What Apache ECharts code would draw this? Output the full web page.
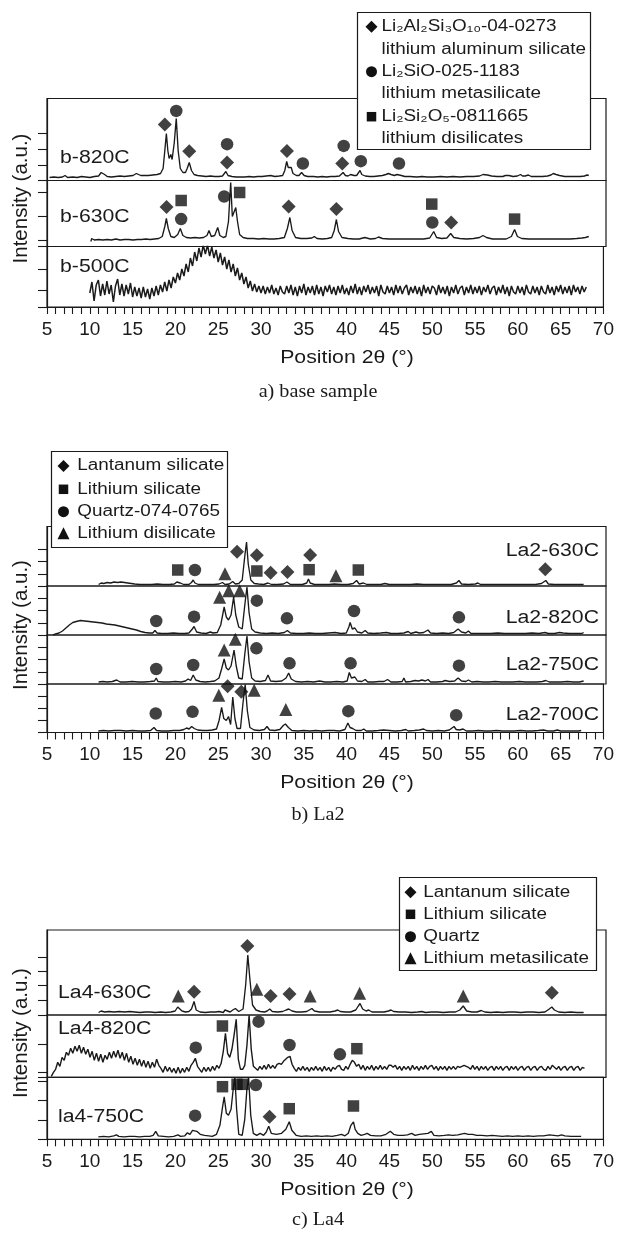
<!DOCTYPE html>
<html>
<head>
<meta charset="UTF-8">
<title>XRD patterns</title>
<script src="https://cdn.jsdelivr.net/npm/echarts@6/dist/echarts.min.js"></script>
<style>
  body { margin: 0; background: #fff; }
  #main { width: 617px; height: 1239px; }
</style>
</head>
<body>
<div id="main"></div>
<script>
// ---------- data (2θ in degrees, intensity in a.u. above each trace's floor) ----------
var xTickMin = 5, xTickMax = 70, xTickStep = 5;

// a) base sample
var b820 = [[5.3,3],[5.8,3.5],[6.3,3],[6.8,3.5],[7.1,5],[7.4,3],[8,3.5],[8.5,3],[9,4],[9.5,3.5],[10,3],[10.5,4],[11,4.5],[11.3,8],[11.5,9.5],[11.7,6],[12,4],[12.5,3.5],[13,4],[13.5,4.5],[14,4],[14.5,4.5],[15,5],[15.4,7],[15.6,8],[15.9,5],[16.3,5],[16.8,5],[17.3,5.5],[17.8,6],[18.2,7],[18.5,12],[18.7,30],[18.88,47],[19.05,30],[19.2,22],[19.4,26],[19.55,21],[19.8,38],[20.03,62],[20.25,30],[20.5,12],[20.8,8],[21.1,8],[21.3,12],[21.54,18],[21.8,10],[22.1,6],[22.5,5],[23,4.5],[23.5,4],[24,4.5],[24.5,4],[25,4],[25.4,4.5],[25.6,6],[25.8,9],[26.05,5],[26.5,4],[27,3.5],[27.5,3.5],[28,3.5],[28.5,4],[29,3.5],[29.5,4],[30,4],[30.5,4.5],[31,5],[31.5,4],[32,4.5],[32.4,5],[32.65,10],[32.87,19],[33.05,13],[33.2,12],[33.4,13],[33.6,7],[34,5],[34.3,5],[34.6,8],[34.9,5],[35.3,4],[36,4],[36.5,3.5],[37,4],[37.5,3.5],[38,4],[38.5,4],[39,4.5],[39.2,5],[39.43,8],[39.7,5],[40,4.5],[40.3,6],[40.5,7],[40.7,5],[41,5],[41.2,7],[41.4,10],[41.6,6],[42,4.5],[42.5,4],[43,4],[43.5,4.5],[44,5],[44.4,6],[44.7,7],[45,6],[45.4,5],[45.7,6],[45.93,8],[46.2,5],[46.6,4],[47.2,4],[48,3.5],[48.6,4],[49.2,3.5],[50,3.5],[50.8,4],[51.5,3.5],[52.2,4],[53,3.5],[53.8,4],[54.6,4],[55.3,4.5],[55.7,6],[55.93,7],[56.2,5.5],[56.7,4.5],[57.3,4],[58,4],[58.3,5],[58.45,6],[58.7,5],[59.2,4],[59.7,4.5],[60.06,6],[60.3,4.5],[60.6,4.5],[60.97,5.5],[61.3,4],[62,4],[62.6,4],[63.2,4.5],[63.6,5.5],[63.86,7],[64.2,6],[64.6,5],[65.2,4],[65.8,4],[66.4,4],[67,4],[67.5,4.5],[67.8,5.5],[68,5]];
var b820Diamond = [[18.7,56],[21.54,29.3],[25.94,18],[32.9,29.6],[39.33,17]];
var b820Circle = [[20.03,69.6],[25.94,36.3],[34.75,17],[39.5,34.6],[41.49,19.3],[45.93,17]];
var b820Ticks = [0,15.5,31.5,47.2];

var b630 = [[10.1,5],[10.2,8],[10.5,6.5],[11,7],[11.5,6.5],[12,7],[12.5,6.5],[13,7.5],[13.5,6.5],[14,7],[14.5,7],[15,6.5],[15.5,7],[16,7],[16.5,7.5],[17,7],[17.5,7.5],[18,8],[18.4,10],[18.7,20],[18.88,28],[19.1,18],[19.4,10],[19.8,9],[20.2,12],[20.5,18],[20.8,11],[21.2,9],[21.7,8.5],[22.2,9],[22.7,8.5],[23.2,9],[23.6,11],[23.84,16],[24.1,10],[24.5,11],[24.85,19],[25.1,11],[25.5,9],[25.8,10],[26.1,25],[26.36,64],[26.55,30],[26.75,28],[26.95,39],[27.15,25],[27.4,12],[27.8,9],[28.3,8],[29,8],[29.6,7.5],[30.2,8],[30.8,7.5],[31.4,7.5],[32,8],[32.6,9],[32.95,18],[33.24,29],[33.5,16],[33.9,9],[34.5,8],[35.2,8],[35.8,8.5],[36.08,10],[36.4,8],[37,7.5],[37.6,8],[38.1,9],[38.4,16],[38.65,27],[38.9,15],[39.3,9],[40,8],[40.6,7.5],[41.3,7.5],[41.95,9],[42.6,7.5],[43.2,8],[43.55,9.5],[44,8],[44.8,7.5],[45.6,7.5],[46.4,7.5],[47.2,7.5],[48,7.5],[48.8,7.5],[49.5,8.5],[49.97,15],[50.3,9],[50.9,8],[51.5,8.5],[51.94,13],[52.3,9],[53,8],[53.8,7.5],[54.6,8],[55.3,9],[55.7,11],[56.1,9],[56.8,7.5],[57.6,7.5],[58.4,7.5],[59,10],[59.37,17],[59.7,10],[60.2,8],[61,7.5],[61.8,7.5],[62.6,7.5],[63.4,7.5],[64.2,7.5],[65,7.5],[65.8,7.5],[66.6,8],[67.2,8.5],[67.6,9],[67.8,10.5],[68,10]];
var b630Diamond = [[18.9,39.4],[33.1,40],[38.65,37.4],[52.0,24]];
var b630Square = [[20.6,46],[27.4,54],[49.74,42.4],[59.37,27.4]];
var b630Circle = [[20.6,27.4],[25.6,50],[49.8,24]];
var b630Ticks = [0,5.8,29.8,53.8];

// b-500C: one reading every 0.25° from 10°
var b500Start = 10, b500Step = 0.25;
var b500 = [
  14,25,6,22,27,11,23,12,26,13,22,5,21,28,12,23,11,22,13,24,   // 10.00 - 14.75
  10,20,11,19,9,20,10,18,8,19,11,21,12,22,15,25,16,27,19,30,   // 15.00 - 19.75
  24,34,27,38,31,43,35,49,41,55,46,59,50,62,53,62,51,60,49,57, // 20.00 - 24.75
  45,54,42,50,38,47,35,43,31,39,27,34,23,30,19,26,16,23,15,21, // 25.00 - 29.75
  14,                                                          // 30.00
  21,13,20,14,22,13,19,12,21,15, 13,21,14,22,12,20,11,21,14,23,
  12,20,14,21,12,22,13,20,11,21, 15,22,13,20,12,21,14,22,13,19,
  12,21,14,23,13,20,12,21,15,22, 13,20,14,21,11,22,15,13,21,14,
  20,12,22,14,21,13,19,22,12,20, 14,21,13,20,11,22,14,20,13,21,
  19,12,22,14,20,13,21,11,20,14, 22,13,19,21,12,20,14,22,13,20,
  14,21,12,20,15,22,13,19,21,12, 20,14,22,13,20,11,21,15,13,21,
  14,20,12,22,15,13,21,14,20,12, 21,15,13,22,14,20,12,21,15,22,
  13,20,14,21,12,22,15,20,13,21, 15,20
];
var b500Ticks = [0,16.3,38];

// b) La2
var la2630 = [[11,1.5],[11.3,3],[11.6,2.5],[12,3.5],[12.4,3],[12.8,4],[13.2,3.5],[13.6,4],[14,3.5],[14.4,3],[14.8,2.5],[15.2,2],[15.8,1.5],[16.5,1.5],[17.2,1.5],[17.8,2],[18.5,1.5],[19.2,1.5],[19.8,2],[20.1,4],[20.3,6],[20.5,3],[20.9,1.5],[21.5,1.5],[21.8,3.5],[22.0,6],[22.2,3],[22.6,1.5],[23.2,1.5],[23.8,1.5],[24.4,1.5],[25,2],[25.4,3.5],[25.7,1.5],[26.2,2],[26.6,4.5],[26.9,2],[27.3,2.5],[27.7,6],[28.0,30],[28.2,44],[28.4,22],[28.7,6],[29.1,2.5],[29.6,2],[30.2,1.5],[30.7,3],[31.1,1.5],[31.8,1.5],[32.5,2],[32.9,4],[33.3,1.5],[34,1.5],[34.7,1.5],[35.2,3],[35.4,7],[35.6,3],[36.1,1.5],[37,1.5],[37.8,1.5],[38.4,2],[39.2,1.5],[40,1.5],[40.6,2.5],[41,5.5],[41.3,2],[41.8,3],[42.2,1.5],[43,1.5],[43.8,1.5],[44.3,2.5],[44.8,1.5],[45.6,1.5],[46.5,1.5],[47.3,1.5],[48,2],[48.8,1.5],[49.6,1.5],[50.4,1.5],[51.2,1.5],[52,1.5],[52.6,3],[52.9,5.5],[53.2,2],[54,1.5],[54.8,2],[55.1,3],[55.4,1.5],[56.2,1.5],[57,1.5],[57.8,1.5],[58.6,1.5],[59.4,1.5],[60.2,1.5],[61,1.5],[61.8,1.5],[62.5,2.5],[63,5.5],[63.3,2],[64,1.5],[64.8,1.5],[65.6,1.5],[66.4,1.5],[67.4,1.5]];
var la2630Diamond = [[27.1,34.3],[29.4,30.7],[31.0,13.3],[32.96,14],[35.6,31],[62.94,16.7]];
var la2630Square = [[20.2,16],[29.4,15],[35.48,16.3],[41.2,16]];
var la2630Circle = [[22.2,16]];
var la2630Triangle = [[25.7,12.3],[38.6,10.3]];

var la2820 = [[5.7,0],[6.0,1],[6.4,2],[6.8,4],[7.2,7],[7.6,10],[8,12.5],[8.4,13.5],[8.9,14.5],[9.4,14],[9.9,13.5],[10.4,13],[10.9,12.5],[11.4,12],[11.9,11],[12.4,10.5],[12.9,10],[13.4,9],[13.9,8],[14.4,7],[14.9,6],[15.4,5],[15.9,3.5],[16.4,2.5],[16.9,2],[17.3,2],[17.55,4.5],[17.8,2],[18.3,1.5],[19,1.5],[19.7,2],[20.4,1.5],[21,1.5],[21.5,2],[21.9,6],[22.1,8.5],[22.4,3],[22.9,2],[23.5,1.5],[24,3],[24.3,2],[24.8,2.5],[25.2,10],[25.6,28],[25.85,18],[26.1,15],[26.4,20],[26.7,38],[26.95,20],[27.3,8],[27.7,6],[28.0,30],[28.25,48],[28.5,22],[28.8,6],[29.2,3],[29.8,2],[30.5,1.5],[31.2,2],[31.9,1.5],[32.6,2.5],[32.95,4.5],[33.3,2],[34,1.5],[34.8,1.5],[35.5,2],[36.2,1.5],[37,1.5],[37.7,2],[38.5,2.5],[39.2,1.5],[39.8,2],[40.1,8],[40.25,12.5],[40.5,6],[40.8,7],[41.1,3],[41.6,2],[42.0,4.5],[42.3,2],[43,1.5],[43.8,2],[44.5,2.5],[45,1.5],[45.8,1.5],[46.5,2],[47,3.5],[47.3,1.5],[47.9,3],[48.3,2],[48.8,2.5],[49.3,5],[49.6,2],[50.3,1.5],[51,2],[51.7,1.5],[52.3,2.5],[52.8,6],[53.2,3],[53.7,2],[54.0,4],[54.3,1.5],[55,1.5],[55.8,1.5],[56.6,1.5],[57.4,2],[58.2,1.5],[59,1.5],[59.8,1.5],[60.6,1.5],[61.4,2],[62.2,1.5],[62.9,2.5],[63.3,1.5],[64,1.5],[64.6,2.5],[65,2],[65.7,1.5],[66.5,1.5],[67.2,1.5],[67.4,2.5]];
var la2820Triangle = [[25.07,37.7],[26.13,44.3],[27.4,44.3]];
var la2820Circle = [[29.4,34.3],[17.7,14],[22.1,18.3],[32.9,16.7],[40.7,24],[52.9,17.7]];

var la2750 = [[11,2],[11.5,2.5],[12,2],[12.6,2.5],[13.1,4],[13.5,2],[14.2,2],[14.9,2.5],[15.6,2],[16.3,2],[17,2.5],[17.5,3],[17.7,6],[17.9,2.5],[18.5,2],[19.2,2],[19.9,2.5],[20.6,2],[21.1,3],[21.4,5],[21.7,3.5],[22.0,9],[22.3,4],[22.8,2.5],[23.4,2],[24,2.5],[24.5,3],[25,6],[25.3,15],[25.6,25],[25.85,16],[26.1,14],[26.4,18],[26.75,34],[27.0,18],[27.3,6],[27.7,5],[28.0,30],[28.25,48],[28.5,22],[28.8,6],[29.2,3],[29.8,2.5],[30.4,3.5],[30.7,9],[31,3],[31.6,2.5],[32.3,3],[32.8,6],[33.1,11],[33.4,5],[33.9,2.5],[34.6,2],[35.3,2.5],[36,2],[36.7,3],[37.3,2],[38,2],[38.7,2.5],[39.4,2],[39.9,3],[40.15,11.5],[40.4,6],[40.8,7],[41.1,3],[41.6,2.5],[42.0,4.5],[42.3,2],[43,2],[43.6,2.5],[44.2,2.5],[44.6,4.5],[45,2],[45.7,2],[46.3,2.5],[46.5,6],[46.7,2],[47.3,2.5],[47.8,3.5],[48.2,3],[48.6,4],[49,3],[49.3,4.5],[49.6,2],[50.3,2],[51,2.5],[51.3,3.5],[51.8,2.5],[52.4,3],[52.8,6],[53.2,3],[53.7,2.5],[54,4],[54.4,2],[55,2.5],[55.7,2],[56.4,2],[57.1,2.5],[57.8,2],[58.5,2],[59.2,2],[59.9,2.5],[60.6,2],[61.3,2],[62,2],[62.6,2.5],[63,3.5],[63.4,2],[64.1,2],[64.8,2],[65.5,2.5],[66.2,2],[66.9,2],[67.4,3]];
var la2750Triangle = [[25.6,34],[26.9,44.7]];
var la2750Circle = [[29.35,35.7],[17.7,15],[22.0,19],[33.2,20.7],[40.3,20.7],[52.9,18.3]];

var la2700 = [[11,1.5],[11.6,2],[12.2,1.5],[12.9,2],[13.6,2],[14.3,1.5],[15,2],[15.7,1.5],[16.4,1.5],[17.1,2],[17.5,5],[17.8,2],[18.4,1.5],[19.1,1.5],[19.8,2],[20.5,2],[21.0,3],[21.3,4.5],[21.6,3.5],[21.9,6],[22.2,4],[22.6,2.5],[23.2,2],[23.8,2],[24.3,2.5],[24.8,3.5],[25.1,12],[25.4,25],[25.65,14],[25.95,12],[26.2,16],[26.45,8],[26.7,35.5],[26.95,14],[27.2,4],[27.6,4],[27.9,30],[28.15,48],[28.4,22],[28.7,5],[29.2,2.5],[29.8,2],[30.4,3],[30.7,6],[31,2.5],[31.6,2],[32.2,3],[32.6,7],[32.85,8.5],[33.2,5],[33.6,2],[34.3,1.5],[35,2],[35.7,1.5],[36.4,2],[37.1,1.5],[37.8,2],[38.5,2],[39.2,1.5],[39.8,3],[40.15,9.5],[40.4,5],[40.7,4],[41.1,2],[41.7,2],[42.0,3.5],[42.3,1.5],[43,1.5],[43.7,2],[44.3,2.5],[45,2],[45.7,1.5],[46.4,2],[46.9,3],[47.2,1.5],[47.9,2],[48.5,2.5],[49,3.5],[49.3,2],[50,1.5],[50.7,2],[51.4,1.5],[52,2.5],[52.55,6],[52.8,3],[53.2,2.5],[53.6,3.5],[54,1.5],[54.7,1.5],[55.4,2],[56.1,1.5],[56.8,1.5],[57.5,2],[58.2,1.5],[58.9,1.5],[59.6,1.5],[60.3,2],[61,1.5],[61.7,1.5],[62.4,2],[63,2.5],[63.5,1.5],[64.2,1.5],[64.6,2.5],[65,1.5],[65.7,1.5],[66.4,1.5],[67.1,1.5],[67.4,2]];
var la2700Triangle = [[25.07,37.3],[29.2,42.3],[32.9,23]];
var la2700Diamond = [[26.1,46.3],[27.7,40.7]];
var la2700Circle = [[17.7,19],[22.0,20.7],[40.2,21.3],[52.8,17.3]];
var la2Ticks = [0,12.2,24.4,36.6];

// c) La4
var la4630 = [[11,2.5],[11.3,4],[11.7,3],[12.2,3.5],[12.8,3],[13.4,3.5],[14,3],[14.6,3.5],[15.2,3],[15.8,2.5],[16.4,3],[17,3],[17.6,2.5],[18.2,3],[18.8,2.5],[19.4,3],[19.9,4],[20.2,8],[20.4,10],[20.7,4],[21.1,3],[21.5,3.5],[21.8,6],[22.1,13.5],[22.35,5],[22.8,3],[23.4,2.5],[24,3],[24.6,3],[25,3.5],[25.5,2.5],[25.7,5],[25.9,3],[26.3,3],[26.6,5],[26.9,6.5],[27.3,3.5],[27.8,6],[28.1,30],[28.35,60],[28.6,35],[28.9,10],[29.3,5],[29.8,3.5],[30.3,3],[30.6,4],[30.9,6],[31.2,3.5],[31.8,3],[32.4,3.5],[32.8,5],[33.1,6],[33.5,4],[34,3],[34.6,3],[35.2,3.5],[35.5,5],[35.8,6.5],[36.1,4],[36.7,3],[37.3,3],[37.9,3],[38.5,4],[38.8,5],[39.1,3.5],[39.7,3],[40.3,3],[40.9,5],[41.2,9],[41.4,11.5],[41.7,6],[42.1,4],[42.4,5],[42.8,3],[43.5,3],[44.2,3],[44.7,4],[45,5],[45.3,3.5],[46,3],[46.7,3],[47.4,2.5],[48.1,3],[48.6,3.5],[49,2.5],[49.7,3],[50.4,3],[51.1,2.5],[51.8,3],[52.5,3],[53,5],[53.4,9],[53.8,4],[54.4,3],[55,3],[55.5,4.5],[55.9,3],[56.6,2.5],[57.3,3],[58,2.5],[58.7,3],[59.4,3],[60.1,2.5],[60.8,3],[61.5,3],[62.2,2.5],[62.9,3],[63.4,6],[63.7,8],[64,5],[64.5,3],[65.2,2.5],[65.9,3],[66.6,2.5],[67.4,2.5]];
var la4630Triangle = [[20.26,19],[29.4,25.7],[35.6,19],[41.35,21.7],[53.4,19]];
var la4630Diamond = [[22.1,23.3],[28.3,69],[31.0,19],[33.2,21],[63.7,22.3]];
var la4630Ticks = [0,15,29.3,43.3,57.7];

// La4-820C: one reading every 0.25° from 5.5°
var la4820Start = 5.5, la4820Step = 0.25;
var la4820 = [
  1,5,8,15,11,20,17,25,22,29,24,31,26,32,24,30,23,28,20,26,       // 5.50 - 10.25
  17,24,16,23,15,22,18,25,19,26,20,27,19,25,17,24,15,21,13,19,    // 10.50 - 15.25
  12,18,11,17,10,16,9,15,10,18,12,9,5,11,6,10,5,9,4,10,           // 15.50 - 20.25
  4,9,5,10,6,12,15,19,11,8,5,10,6,10,6,11,7,12,9,14,              // 20.50 - 25.25
  26,44,24,20,28,42,58,18,8,8,12,32,62,28,11,9,7,11,8,12,         // 25.50 - 30.25
  8,13,9,12,9,13,14,13,16,18,20,21,13,9,6,10,7,11,7,10,           // 30.50 - 35.25
  6,10,7,11,7,10,6,11,7,10,6,10,8,11,12,8,7,11,8,13,              // 35.50 - 40.25
  17,15,11,13,8,12,7,11,8,12,7,11,8,12,8,11,8,12,12,10,           // 40.50 - 45.25
  12,8,11,7,11,8,11,7,12,8,11,7,11,8,12,8,11,12,8,11,             // 45.50 - 50.25
  7,11,8,11,7,11,8,11,8,11,10,11,12,11,10,8,12,8,11,7,            // 50.50 - 55.25
  11,8,11,7,10,11,7,11,8,11,7,10,11,7,11,8,11,7,10,11,            // 55.50 - 60.25
  7,10,11,7,10,11,7,10,11,8,7,11,8,12,10,8,11,7,10,11,            // 60.50 - 65.25
  7,10,11,7,10,11,7,10,9                                          // 65.50 - 67.50
];
var la4820Square = [[25.4,51.3],[41.03,28.6]];
var la4820Circle = [[29.6,55.6],[22.3,29.6],[33.2,32.3],[39.06,23]];
var la4820Ticks = [0,5.5,33.3];

var la4750 = [[11,2.5],[11.6,3],[12.2,2.5],[12.8,3.5],[13.1,4.5],[13.4,3],[14,2.5],[14.6,3],[15.2,3],[15.8,2.5],[16.4,3],[17,3],[17.4,4],[17.7,8],[18,3.5],[18.6,3],[19.2,2.5],[19.8,3],[20.3,4.5],[20.6,3],[21.1,3.5],[21.4,6.5],[21.7,5],[22.0,9],[22.2,11],[22.5,8],[22.9,5],[23.4,4],[23.9,3.5],[24.3,3],[24.8,5],[25.2,14],[25.5,32],[25.7,42.5],[25.95,26],[26.2,24],[26.5,30],[26.75,50],[26.95,62],[27.15,30],[27.4,5],[27.8,4],[28.1,20],[28.35,50],[28.55,62],[28.8,24],[29.1,6],[29.5,4],[29.9,6],[30.3,4],[30.6,7],[30.9,13],[31.2,6],[31.8,5],[32.4,6],[32.9,10],[33.3,17.5],[33.6,9],[34.1,4],[34.7,3],[35.3,3.5],[35.9,3],[36.5,3.5],[37.1,3],[37.7,3.5],[38.3,3],[38.9,4],[39.4,5],[39.8,3.5],[40.2,6],[40.5,14],[40.8,17.5],[41.0,10],[41.3,6],[41.7,4],[42.1,5],[42.4,6],[42.8,4],[43.4,3.5],[44,3.5],[44.6,5],[45.1,8],[45.5,5],[46,4],[46.6,4],[47.1,4.5],[47.6,6],[48,4],[48.5,5],[49,5.5],[49.5,6],[49.9,8],[50.2,4],[50.8,3.5],[51.4,4],[51.9,4.5],[52.4,4],[53,4.5],[53.5,5.5],[53.8,6],[54.2,5],[54.7,5],[55.2,4],[55.8,4],[56.4,3.5],[57,4],[57.6,3.5],[58.2,3],[58.8,3.5],[59.4,3],[60,3.5],[60.6,3],[61.2,3.5],[61.8,3],[62.4,3.5],[63,3.5],[63.7,4.5],[64.2,4],[64.7,3.5],[65.1,4.5],[65.5,3.5],[66.2,3],[66.8,3],[67.4,3]];
var la4750Square = [[25.5,52.6],[27.2,55],[27.9,55],[33.3,30.6],[40.8,33.3]];
var la4750Circle = [[29.4,54.3],[22.3,23.6]];
var la4750Diamond = [[31.0,22.6]];
var la4750Ticks = [0,19.5,39,58];

function even(start, step, arr) {
  return arr.map(function (v, i) { return [start + i * step, v]; });
}

// ---------- layout ----------
var INK = '#1a1a1a';
var SANS = '"Liberation Sans", Arial, sans-serif';
var SERIF = '"Liberation Serif", "Times New Roman", serif';
var SX = 1.18;   // the source figure is slightly stretched sideways

var rows = [
  { top: 98.5,  bot: 180.5,  data: b820, ticks: b820Ticks, marks: { diamond: b820Diamond, circle: b820Circle } },
  { top: 180.5, bot: 246.5,  data: b630, ticks: b630Ticks, marks: { diamond: b630Diamond, rect: b630Square, circle: b630Circle } },
  { top: 246.5, bot: 307,    data: even(b500Start, b500Step, b500), ticks: b500Ticks, marks: {}, axis: true, lw: 1.5 },
  { top: 526.5, bot: 586,    data: la2630, ticks: la2Ticks, marks: { diamond: la2630Diamond, rect: la2630Square, circle: la2630Circle, triangle: la2630Triangle } },
  { top: 586,   bot: 635,    data: la2820, ticks: la2Ticks, marks: { triangle: la2820Triangle, circle: la2820Circle } },
  { top: 635,   bot: 684,    data: la2750, ticks: la2Ticks, marks: { triangle: la2750Triangle, circle: la2750Circle } },
  { top: 684,   bot: 732.5,  data: la2700, ticks: la2Ticks, marks: { triangle: la2700Triangle, diamond: la2700Diamond, circle: la2700Circle }, axis: true },
  { top: 930,   bot: 1015,   data: la4630, ticks: la4630Ticks, marks: { triangle: la4630Triangle, diamond: la4630Diamond } },
  { top: 1015,  bot: 1077.3, data: even(la4820Start, la4820Step, la4820), ticks: la4820Ticks, marks: { rect: la4820Square, circle: la4820Circle }, lw: 1.4 },
  { top: 1077.3, bot: 1139.3, data: la4750, ticks: la4750Ticks, marks: { rect: la4750Square, circle: la4750Circle, diamond: la4750Diamond }, axis: true }
];

var symSize = { diamond: 14, circle: 12.5, rect: 11.5, triangle: 13 };

var grids = [], xAxes = [], yAxes = [], series = [];
rows.forEach(function (r, i) {
  var h = r.bot - r.top;
  grids.push({ left: 47, right: 11, top: r.top, height: h, show: true, borderColor: INK, borderWidth: 1.2 });
  xAxes.push({
    gridIndex: i, type: 'value', min: xTickMin, max: xTickMax, interval: xTickStep,
    axisLine: { show: !!r.axis, lineStyle: { color: INK, width: 1.2 } },
    axisTick: { show: !!r.axis, length: 7, lineStyle: { color: INK, width: 1.1 } },
    minorTick: { show: !!r.axis, splitNumber: 5, length: 7, lineStyle: { color: INK, width: 1.1 } },
    axisLabel: { show: !!r.axis, margin: 13, fontSize: 19, fontFamily: SANS, color: INK },
    splitLine: { show: false }
  });
  yAxes.push({
    gridIndex: i, type: 'value', min: 0, max: h,
    axisLine: { show: true, lineStyle: { color: INK, width: 1.2 } },
    axisTick: { show: true, length: 9, customValues: r.ticks, lineStyle: { color: INK, width: 1.1 } },
    axisLabel: { show: false },
    splitLine: { show: false }
  });
  series.push({
    type: 'line', xAxisIndex: i, yAxisIndex: i, data: r.data, showSymbol: false, symbol: 'none',
    lineStyle: { color: INK, width: r.lw || 1.35 }, animation: false, clip: true, z: 2
  });
  Object.keys(r.marks).forEach(function (k) {
    series.push({
      type: 'scatter', xAxisIndex: i, yAxisIndex: i, data: r.marks[k], symbol: k,
      symbolSize: symSize[k], itemStyle: { color: '#111' }, animation: false, clip: false, z: 3
    });
  });
});

// ---------- text, legends ----------
function txt(x, y, s, size, align, extra) {
  var el = {
    type: 'text', x: x, y: y, scaleX: SX, z: 120,
    style: { text: s, font: size + 'px ' + SANS, fill: INK, textAlign: align || 'left', textVerticalAlign: 'middle' }
  };
  if (extra) for (var k in extra) el[k] = extra[k];
  return el;
}
function mark(kind, x, y, s) {
  var c = { type: 'polygon', z: 120, style: { fill: '#111' } };
  if (kind === 'diamond') c.shape = { points: [[x, y - s / 2], [x + s / 2, y], [x, y + s / 2], [x - s / 2, y]] };
  if (kind === 'triangle') c.shape = { points: [[x, y - s / 2], [x + s / 2, y + s / 2], [x - s / 2, y + s / 2]] };
  if (kind === 'circle') return { type: 'circle', z: 120, shape: { cx: x, cy: y, r: s / 2 }, style: { fill: '#111' } };
  if (kind === 'rect') return { type: 'rect', z: 120, shape: { x: x - s / 2 + 0.5, y: y - s / 2 + 0.5, width: s - 1, height: s - 1 }, style: { fill: '#111' } };
  return c;
}
function box(x0, y0, x1, y1) {
  return { type: 'rect', z: 110, shape: { x: x0, y: y0, width: x1 - x0, height: y1 - y0 }, style: { fill: '#fff', stroke: INK, lineWidth: 1.2 } };
}

var g = [];
// panel a legend
g.push(box(357.5, 12.5, 590.5, 149.5));
g.push(mark('diamond', 371.5, 26.7, 12), txt(381.5, 26.7, 'Li₂Al₂Si₃O₁₀-04-0273', 16));
g.push(txt(381.5, 49.3, 'lithium aluminum silicate', 16));
g.push(mark('circle', 371.5, 71.7, 11), txt(381.5, 71.7, 'Li₂SiO-025-1183', 16));
g.push(txt(381.5, 94, 'lithium metasilicate', 16));
g.push(mark('rect', 371.5, 116.7, 10.5), txt(381.5, 116.7, 'Li₂Si₂O₅-0811665', 16));
g.push(txt(381.5, 138.3, 'lithium disilicates', 16));
// panel b legend
g.push(box(51.5, 451.5, 227.5, 547.5));
g.push(mark('diamond', 63.5, 466, 12), txt(77.3, 466, 'Lantanum silicate', 16));
g.push(mark('rect', 63.5, 489.3, 10.5), txt(77.3, 489.3, 'Lithium silicate', 16));
g.push(mark('circle', 63.5, 511.7, 11), txt(77.3, 511.7, 'Quartz-074-0765', 16));
g.push(mark('triangle', 63.5, 533.3, 12), txt(77.3, 533.3, 'Lithium disilicate', 16));
// panel c legend
g.push(box(399.5, 877.5, 596.5, 970.5));
g.push(mark('diamond', 410.5, 892.3, 12), txt(423.3, 892.3, 'Lantanum silicate', 16));
g.push(mark('rect', 410.5, 914.3, 10.5), txt(423.3, 914.3, 'Lithium silicate', 16));
g.push(mark('circle', 410.5, 936.7, 11), txt(423.3, 936.7, 'Quartz', 16));
g.push(mark('triangle', 410.5, 958.3, 12), txt(423.3, 958.3, 'Lithium metasilicate', 16));

// trace labels
g.push(txt(60, 158.3, 'b-820C', 18), txt(60, 217.3, 'b-630C', 18), txt(60, 266.7, 'b-500C', 18));
g.push(txt(599, 550.7, 'La2-630C', 18, 'right'), txt(599, 618.3, 'La2-820C', 18, 'right'),
       txt(599, 665, 'La2-750C', 18, 'right'), txt(599, 715, 'La2-700C', 18, 'right'));
g.push(txt(58, 993.3, 'La4-630C', 18), txt(58, 1029.3, 'La4-820C', 18), txt(58, 1116.7, 'la4-750C', 18));

// axis titles and captions
[[198.5, 357.7, 392, 'a) base sample'], [625, 783, 815, 'b) La2'], [1033, 1190, 1220, 'c) La4']].forEach(function (p) {
  g.push({ type: 'text', x: 21.5, y: p[0], rotation: Math.PI / 2, z: 120,
           style: { text: 'Intensity (a.u.)', font: '20.5px ' + SANS, fill: INK, textAlign: 'center', textVerticalAlign: 'middle' } });
  g.push(txt(347, p[1], 'Position 2θ (°)', 18, 'center'));
  g.push({ type: 'text', x: 318, y: p[2], scaleX: 1.12, z: 120,
           style: { text: p[3], font: '18px ' + SERIF, fill: INK, textAlign: 'center', textVerticalAlign: 'middle' } });
});

var chart = echarts.init(document.getElementById('main'));
chart.setOption({
  animation: false,
  backgroundColor: '#fff',
  grid: grids,
  xAxis: xAxes,
  yAxis: yAxes,
  series: series,
  graphic: { elements: g }
});
</script>
</body>
</html>
